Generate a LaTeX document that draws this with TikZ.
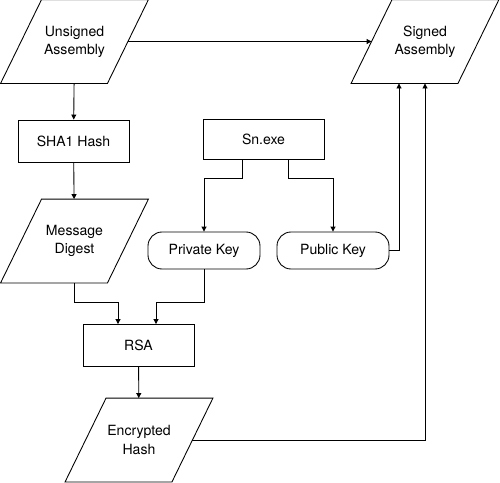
\documentclass[tikz,border=0pt]{standalone}
\usepackage{fontspec}
\setmainfont{TeX Gyre Heros}
\usetikzlibrary{arrows.meta, positioning, shapes.geometric}

\begin{document}
\begin{tikzpicture}[
      line width=0.5pt,
      font=\fontsize{8}{10.3}\selectfont,
      io/.style={minimum width=2.12cm, minimum height=1.66cm, align=center, inner sep=0pt},
      proc/.style={draw, minimum width=2.22cm, minimum height=0.84cm},
      key/.style={draw, rounded corners=2.8mm, minimum width=2.24cm, minimum height=0.74cm},
      arr/.style={-{Triangle[length=1mm, width=1mm]}}
    ]
      \useasboundingbox (0,0) rectangle (10,-9.64);

      % left column
      \node[io]   (ua)  at (1.49, -0.83) {Unsigned\\Assembly};
      \node[proc] (sha) at (1.47, -2.82) {SHA1 Hash};
      \node[io]   (md)  at (1.49, -4.82) {Message\\Digest};
      \node[proc] (rsa) at (2.77, -6.91) {RSA};
      \node[io]   (eh)  at (2.78, -8.80) {Encrypted\\Hash};

      % key pair
      \node[proc, minimum width=2.42cm, minimum height=0.8cm] (sn) at (5.27, -2.79) {Sn.exe};
      \node[key] (prv) at (4.08, -5.01) {Private Key};
      \node[key] (pub) at (6.66, -5.01) {Public Key};

      % output
      \node[io] (sa) at (8.50, -0.83) {Signed\\Assembly};

      % parallelograms
      \foreach \n in {ua, md, eh, sa}
        \draw ([xshift=4.1mm]\n.north west) -- ([xshift=4.1mm]\n.north east)
          -- ([xshift=-4.1mm]\n.south east) -- ([xshift=-4.1mm]\n.south west) -- cycle;

      \coordinate (join) at (0, -6.04);

      \draw[arr] (ua) -- (sa);
      \draw[arr] (ua) -- (sha);
      \draw[arr] (sha) -- (md);
      \draw[arr] (md.south) -- (md.south |- join) -| ([xshift=-4.1mm]rsa.north);
      \draw[arr] (prv.south) -- (prv.south |- join) -| ([xshift=3.5mm]rsa.north);
      \draw[arr] ([xshift=-4.3mm]sn.south) -- ++(0,-0.37) -| (prv.north);
      \draw[arr] ([xshift=4.9mm]sn.south) -- ++(0,-0.37) -| (pub.north);
      \draw[arr] (pub.east) -| ([xshift=-5.2mm]sa.south);
      \draw[arr] (rsa) -- (eh);
      \draw[arr] (eh.east) -| (sa.south);
    \end{tikzpicture}
\end{document}
